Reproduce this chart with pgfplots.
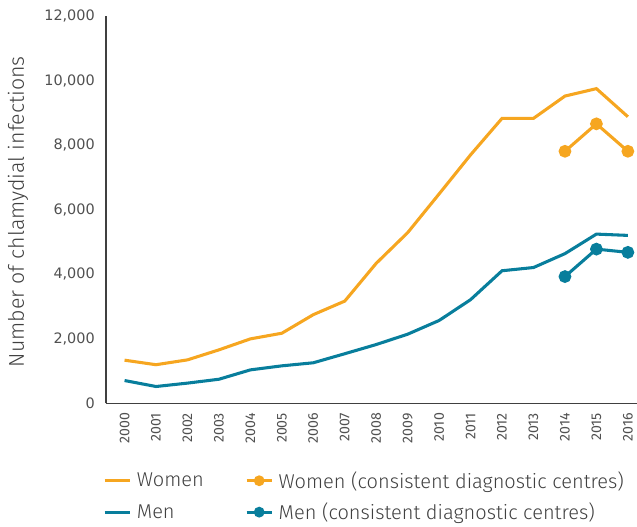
\documentclass[border=0pt]{standalone}
\usepackage{pgfplots}
\pgfplotsset{compat=1.18}
\usepackage{fontspec}
\setmainfont{Fira Sans}
\newfontfamily\lightfont{Fira Sans Light}
\newfontfamily\tickfont{DejaVu Sans}
\definecolor{wom}{RGB}{246,166,32}
\definecolor{men}{RGB}{8,126,156}
\definecolor{txt}{RGB}{64,64,64}
\definecolor{tck}{RGB}{80,80,80}
\pgfplotsset{
  lineleg/.style={legend image code/.code={\draw[##1, line width=2.2pt] (0pt,0pt) -- (19pt,0pt);}},
  markleg/.style={legend image code/.code={\draw[##1, line width=2.2pt, mark size=2.9pt, mark repeat=2, mark phase=2] plot coordinates {(0pt,0pt) (9.5pt,0pt) (19pt,0pt)};}},
}
\begin{document}
\begin{tikzpicture}
\path[use as bounding box] (-79.5pt,-92.6pt) rectangle (398.25pt,302.6pt);
\begin{axis}[
  at={(0pt,0pt)}, anchor=south west,
  scale only axis, width=398.25pt, height=290.6pt,
  xmin=1999.41, xmax=2016.29, ymin=0, ymax=12000,
  scaled ticks=false,
  axis x line*=bottom, axis y line*=left,
  axis line style={-, txt, line width=0.8pt},
  major tick length=0pt,
  xtick={2000,...,2016},
  ytick={0,2000,...,12000},
  /pgf/number format/assume math mode=true,
  x tick label style={rotate=90, anchor=east, inner xsep=7pt, font=\fontsize{10.6}{12}\selectfont, text=tck, /pgf/number format/1000 sep={}},
  y tick label style={anchor=east, inner xsep=8.25pt, font=\tickfont\fontsize{10.8}{12}\selectfont, text=tck, /pgf/number format/1000 sep={,}},
  ylabel={Number of chlamydial infections},
  ylabel style={at={(axis description cs:-0.1657,0.495)}, anchor=center, font=\lightfont\fontsize{16}{18}\selectfont, text=txt},
  legend columns=2,
  legend cell align=left,
  legend style={at={(axis description cs:-0.00565,-0.24)}, anchor=west, draw=none, fill=none, inner sep=0pt,
    nodes={inner sep=0pt},
    font=\lightfont\fontsize{15}{18}\selectfont, text=txt,
    column sep=4pt,
    /tikz/every even column/.append style={column sep=31pt},
    row sep=9.5pt},
  every axis plot/.append style={line width=2.3pt},
]
\addplot[wom, no marks, lineleg] coordinates {
 (2000,1340) (2001,1200) (2002,1350) (2003,1660) (2004,2000) (2005,2175) (2006,2750) (2007,3170) (2008,4340) (2009,5290) (2010,6490) (2011,7700) (2012,8830) (2013,8830) (2014,9520) (2015,9750) (2016,8880)};
\addlegendentry{Women}
\addplot[wom, mark=*, mark size=3.6pt, markleg] coordinates {
 (2014,7810) (2015,8660) (2016,7810)};
\addlegendentry{Women (consistent diagnostic centres)}
\addplot[men, no marks, lineleg] coordinates {
 (2000,710) (2001,525) (2002,630) (2003,750) (2004,1040) (2005,1165) (2006,1260) (2007,1540) (2008,1825) (2009,2145) (2010,2570) (2011,3215) (2012,4110) (2013,4210) (2014,4640) (2015,5245) (2016,5205)};
\addlegendentry{Men}
\addplot[men, mark=*, mark size=3.6pt, markleg] coordinates {
 (2014,3930) (2015,4780) (2016,4680)};
\addlegendentry{Men (consistent diagnostic centres)}
\end{axis}
\end{tikzpicture}
\end{document}
